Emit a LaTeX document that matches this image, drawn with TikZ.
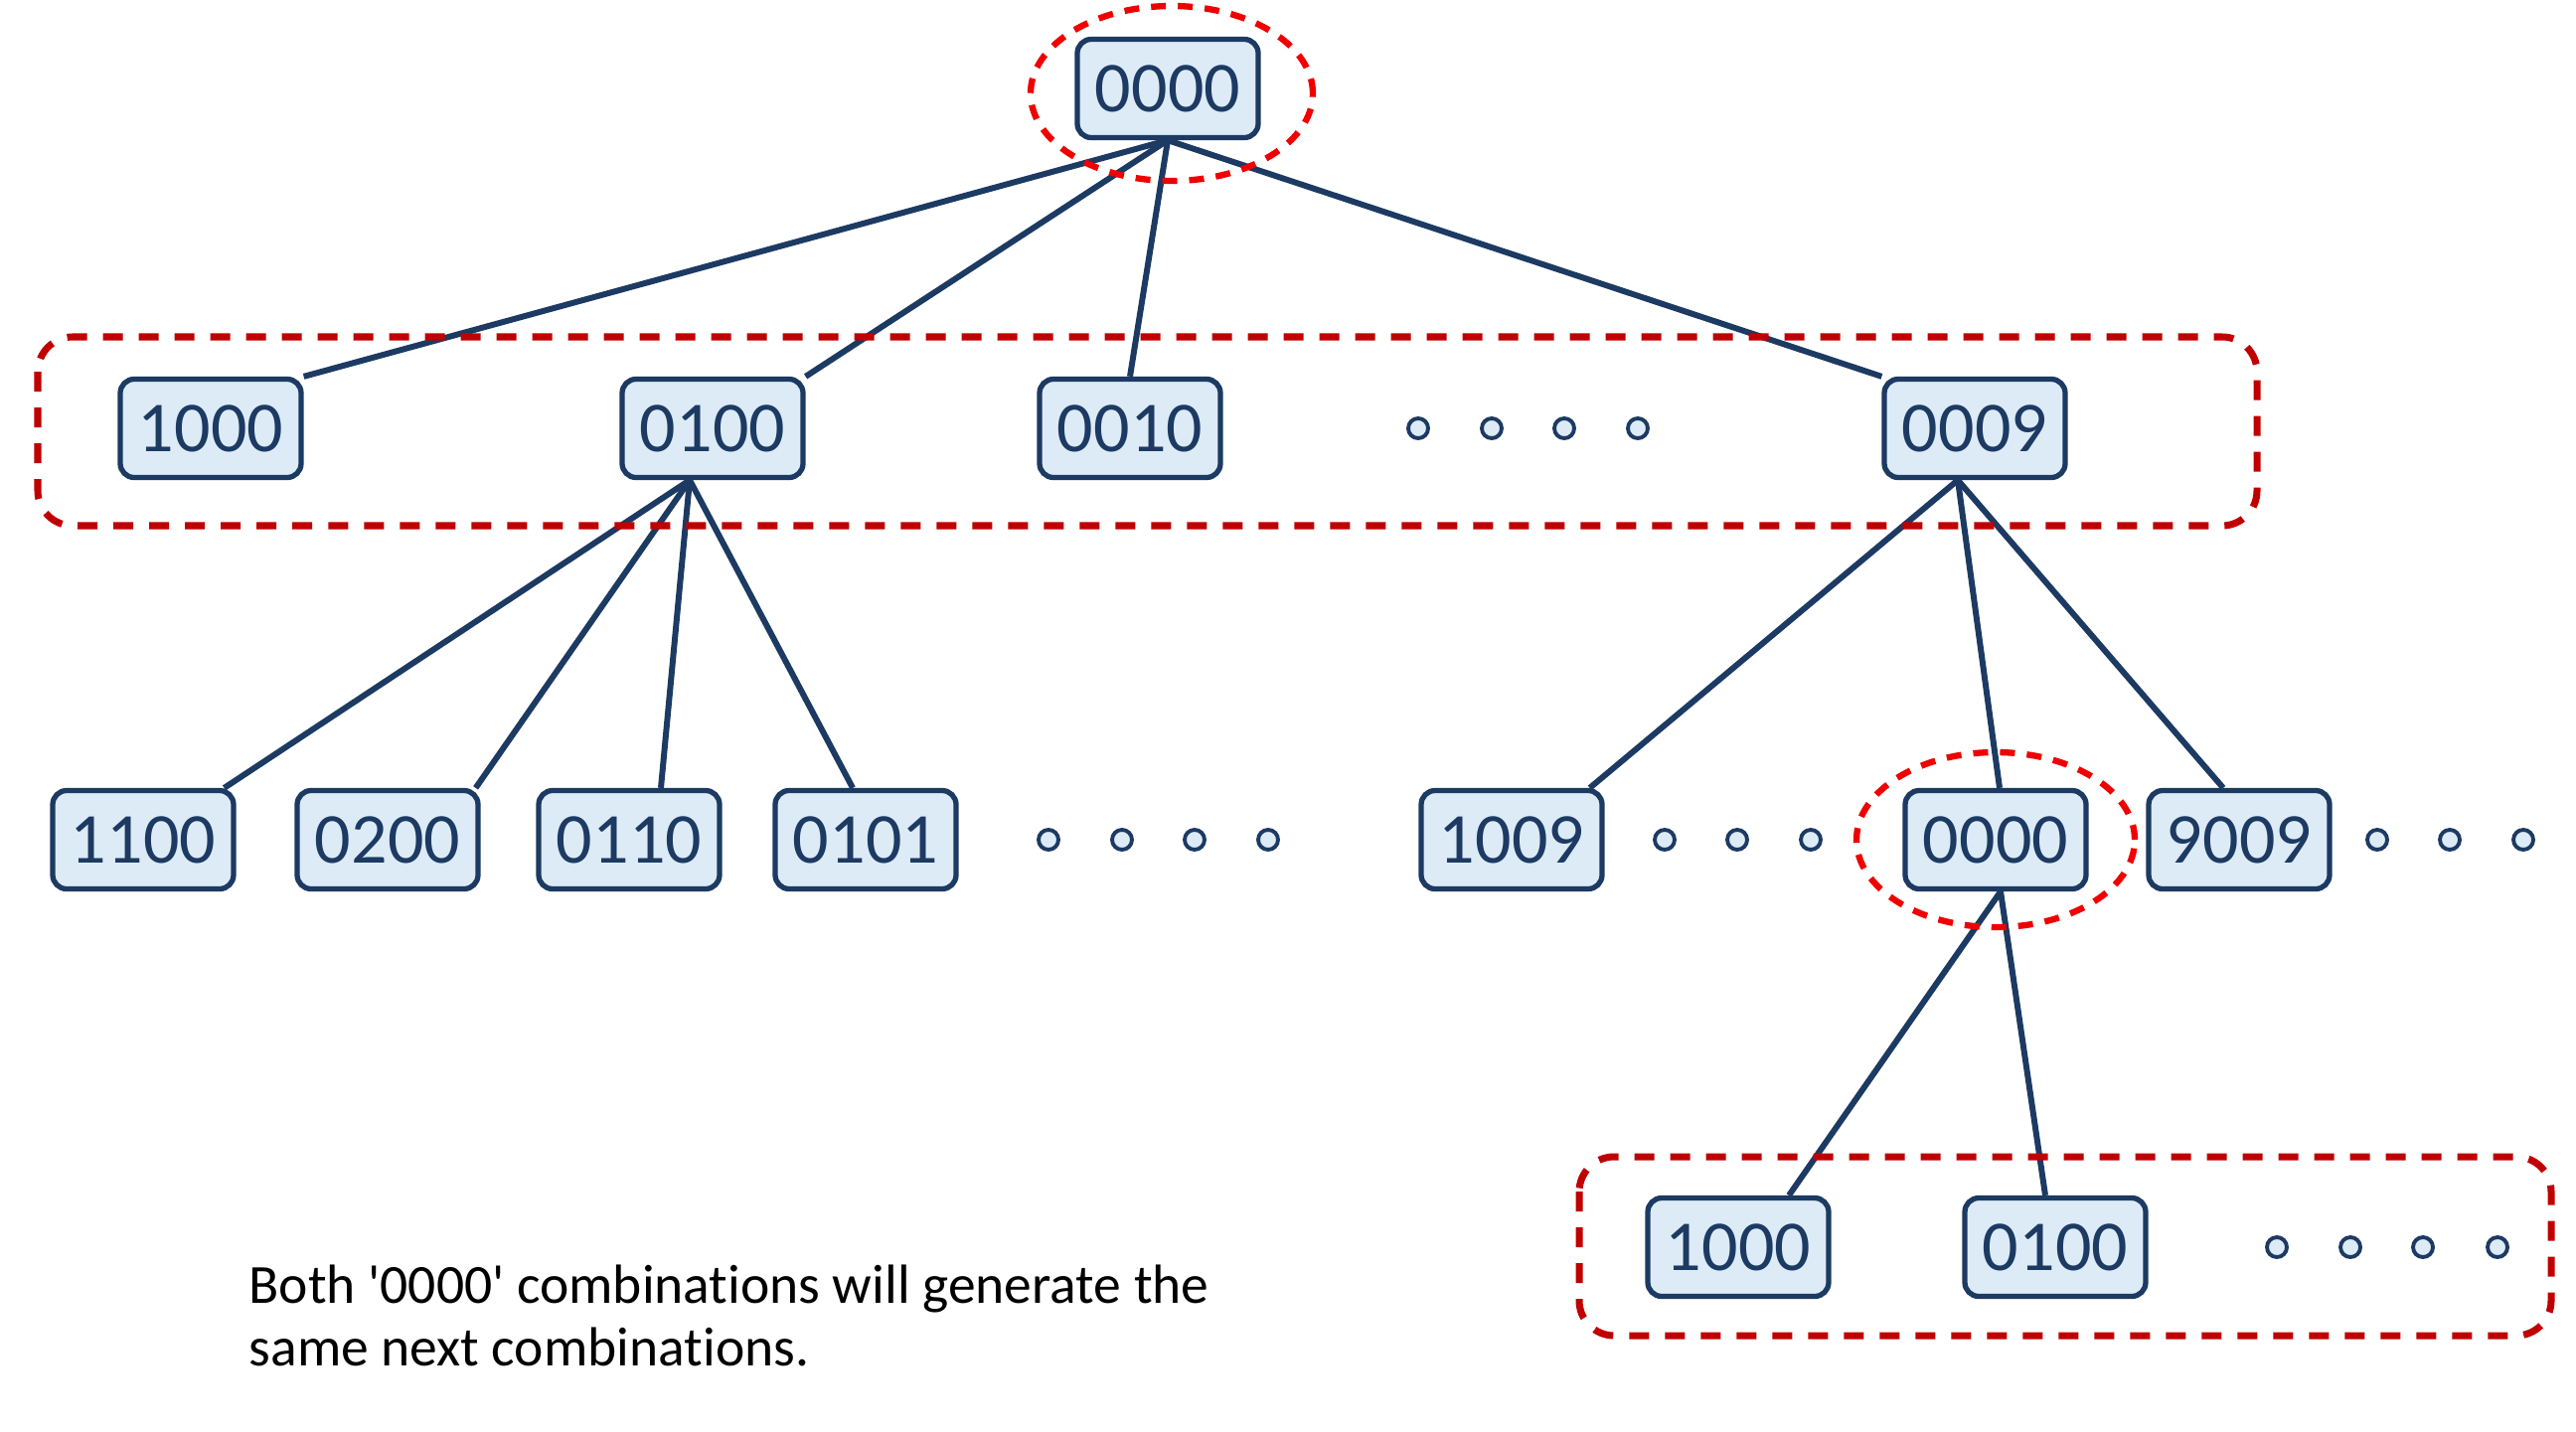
\documentclass[tikz,border=0pt]{standalone}
\usepackage{fontspec}
\setmainfont{Carlito}[Ligatures=NoCommon]
\usepackage{tikz}
\usetikzlibrary{positioning, calc}
\usepackage{xcolor}
\definecolor{boxfill}{RGB}{221,235,247}
\definecolor{boxline}{RGB}{28,58,98}
\definecolor{ringred}{RGB}{240,0,0}
\definecolor{groupred}{RGB}{192,0,0}

\begin{document}
\begin{tikzpicture}[
    combo/.style={rectangle, draw=boxline, line width=1.5pt, fill=boxfill, rounded corners=4pt, minimum width=1.82cm, minimum height=0.99cm, inner sep=0pt, text=boxline, font=\fontsize{20.5}{24}\selectfont},
    link/.style={draw=boxline, line width=1.7pt},
    dot/.style={circle, draw=boxline, line width=1.1pt, fill=boxfill, minimum size=0.2cm, inner sep=0pt},
    group/.style={draw=groupred, line width=2pt, dash pattern=on 0.2cm off 0.16cm, rounded corners=10pt},
    ring/.style={draw=ringred, line width=1.8pt, dash pattern=on 0.15cm off 0.12cm}
]
\useasboundingbox (0,0) rectangle (25.92,-14.40);

% root
\node[combo] (root) at (11.75,-0.89) {0000};

% first level
\node[combo] (a1000) at (2.12,-4.31) {1000};
\node[combo] (a0100) at (7.17,-4.31) {0100};
\node[combo] (a0010) at (11.37,-4.31) {0010};
\node[combo] (a0009) at (19.87,-4.31) {0009};
\foreach \x [count=\i] in {14.27,15.01,15.74,16.48}
    \node[dot] (adot\i) at (\x,-4.31) {};

% second level
\node[combo] (b1100) at (1.44,-8.45) {1100};
\node[combo] (b0200) at (3.90,-8.45) {0200};
\node[combo] (b0110) at (6.33,-8.45) {0110};
\node[combo] (b0101) at (8.71,-8.45) {0101};
\node[combo] (b1009) at (15.21,-8.45) {1009};
\node[combo] (b0000) at (20.08,-8.45) {0000};
\node[combo] (b9009) at (22.53,-8.45) {9009};
\foreach \x [count=\i] in {10.55,11.29,12.02,12.76}
    \node[dot] (bdot\i) at (\x,-8.45) {};
\foreach \x [count=\i] in {16.75,17.48,18.22}
    \node[dot] (cdot\i) at (\x,-8.45) {};
\foreach \x [count=\i] in {23.92,24.65,25.39}
    \node[dot] (ddot\i) at (\x,-8.45) {};

% third level
\node[combo] (c1000) at (17.49,-12.55) {1000};
\node[combo] (c0100) at (20.68,-12.55) {0100};
\foreach \x [count=\i] in {22.91,23.65,24.38,25.13}
    \node[dot] (edot\i) at (\x,-12.55) {};

% links
\draw[link] (root.south) -- (a1000.north east);
\draw[link] (root.south) -- (a0100.north east);
\draw[link] (root.south) -- (a0010.north);
\draw[link] (root.south) -- (a0009.north west);

\draw[link] ([xshift=-0.23cm]a0100.south) -- ([xshift=-0.12cm]b1100.north east);
\draw[link] ([xshift=-0.23cm]a0100.south) -- ([xshift=-0.05cm]b0200.north east);
\draw[link] ([xshift=-0.23cm]a0100.south) -- ([xshift=0.32cm]b0110.north);
\draw[link] ([xshift=-0.23cm]a0100.south) -- ([xshift=-0.13cm]b0101.north);

\draw[link] ([xshift=-0.17cm]a0009.south) -- ([xshift=-0.15cm]b1009.north east);
\draw[link] ([xshift=-0.17cm]a0009.south) -- ([xshift=0.04cm]b0000.north);
\draw[link] ([xshift=-0.17cm]a0009.south) -- ([xshift=-0.16cm]b9009.north);

\draw[link] ([xshift=0.05cm]b0000.south) -- ([xshift=0.51cm]c1000.north);
\draw[link] ([xshift=0.05cm]b0000.south) -- ([xshift=-0.1cm]c0100.north);

% dashed marks
\draw[ring] ($(root)+(0.04,-0.05)$) ellipse [x radius=1.42cm, y radius=0.88cm];
\draw[ring] (b0000) ellipse [x radius=1.40cm, y radius=0.88cm];
\draw[group] (0.38,-3.39) rectangle (22.71,-5.29);
\draw[group] (15.89,-11.64) rectangle (25.67,-13.44);

% note
\node[anchor=base west, align=left, inner sep=0pt, font=\fontsize{15.8}{17.9}\selectfont] (note) at (2.50,-13.74)
    {Both \textquotesingle0000\textquotesingle{} combinations will generate the\\ same next combinations.};
\end{tikzpicture}
\end{document}
